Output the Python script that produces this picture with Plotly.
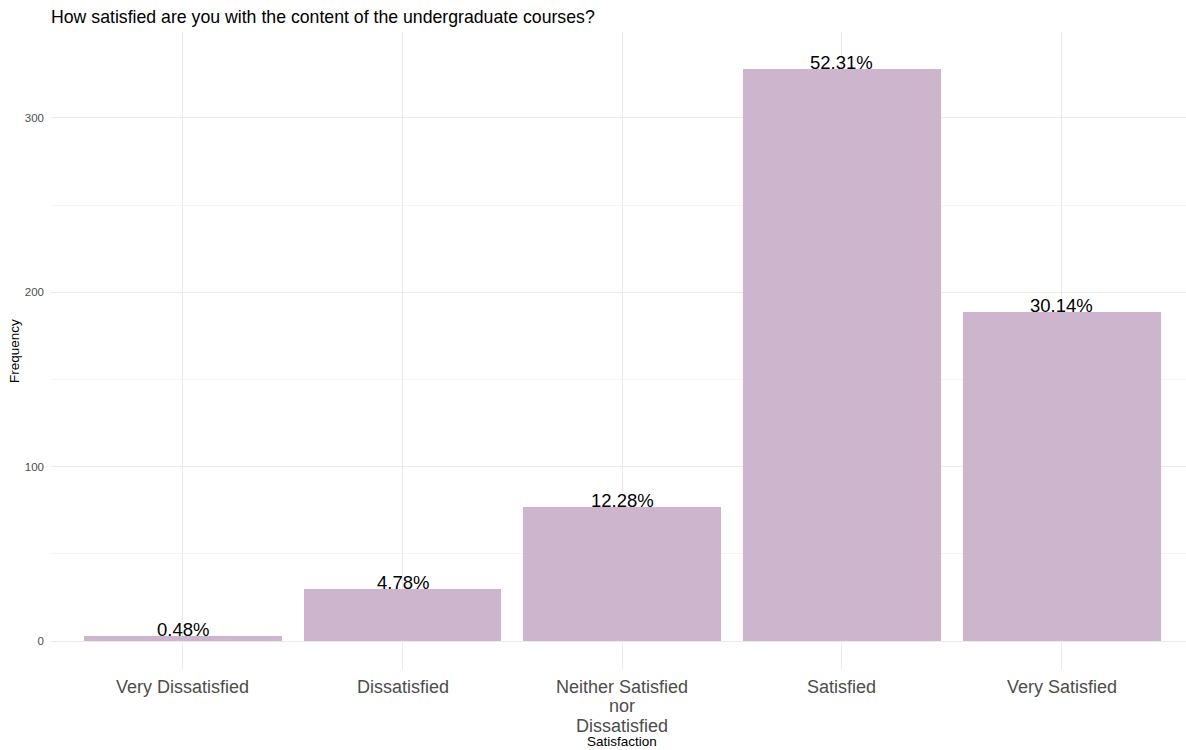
import plotly.graph_objects as go

categories = ["Very Dissatisfied", "Dissatisfied", "Neither Satisfied\nnor\nDissatisfied", "Satisfied", "Very Satisfied"]
counts = [3, 30, 77, 328, 189]
pct_labels = ["0.48%", "4.78%", "12.28%", "52.31%", "30.14%"]
y_ticks = [0, 100, 200, 300]

BAR = "#CDB5CD"
FONT = "Arial, Liberation Sans, sans-serif"
xs = list(range(len(categories)))

W, H = 1186, 750
ML, MR, MT, MB = 51, 0, 32, 80

fig = go.Figure()
fig.add_trace(go.Bar(x=xs, y=counts, width=0.9, marker=dict(color=BAR, line=dict(width=0)),
                     hoverinfo="skip"))

# value labels on top of the bars
for i, (c, t) in enumerate(zip(counts, pct_labels)):
    fig.add_annotation(x=i, y=c, text=t, showarrow=False, xref="x", yref="y",
                       yanchor="bottom", yshift=-6,
                       font=dict(family=FONT, size=18.5, color="#000000"))

# category labels (one annotation per line for ggplot-like line spacing)
LINE_GAP = 19.3
for i, cat in enumerate(categories):
    for k, line in enumerate(cat.split("\n")):
        fig.add_annotation(x=i, xref="x", y=0, yref="paper", yanchor="middle",
                           yshift=-(17 + k * LINE_GAP), text=line, showarrow=False,
                           font=dict(family=FONT, size=18, color="#4D4D4D"))

plot_w = W - ML - MR
fig.add_annotation(text="Satisfaction", x=(622 - ML) / plot_w, xref="paper",
                   y=0, yref="paper", yanchor="middle", yshift=-71.5, showarrow=False,
                   borderpad=0,
                   font=dict(family=FONT, size=13.5, color="#000000"))
fig.add_annotation(text="Frequency", x=0, xref="paper", xanchor="center", xshift=-37,
                   y=0.5, yref="paper", textangle=-90, showarrow=False,
                   font=dict(family=FONT, size=13.5, color="#000000"))

fig.update_layout(
    width=W, height=H,
    margin=dict(l=ML, r=MR, t=MT, b=MB, autoexpand=False),
    paper_bgcolor="white", plot_bgcolor="white",
    showlegend=False,
    bargap=0,
    title=dict(text="How satisfied are you with the content of the undergraduate courses?",
               x=0, xref="paper", xanchor="left", y=1 - 16.5 / H, yanchor="middle",
               font=dict(family=FONT, size=17.7, color="#000000")),
    font=dict(family=FONT),
)

fig.update_xaxes(
    tickmode="array", tickvals=xs, ticktext=[""] * len(xs),
    range=[-0.6, 4.566], showline=False, zeroline=False,
    showgrid=True, gridcolor="#EBEBEB", gridwidth=1,
    ticks="",
)
fig.update_yaxes(
    tickmode="array", tickvals=y_ticks, ticktext=[str(v) for v in y_ticks],
    range=[-16.6, 349.3], showline=False, zeroline=False,
    showgrid=True, gridcolor="#EBEBEB", gridwidth=1,
    minor=dict(tickvals=[50, 150, 250], showgrid=True, gridcolor="#F4F4F4", gridwidth=1),
    ticks="", tickfont=dict(family=FONT, size=11.5, color="#4D4D4D"),
    ticklabelstandoff=6,
)

fig.write_html("out.html", config={"displayModeBar": False},
               post_script="document.body.style.margin='0';document.body.style.padding='0';")
